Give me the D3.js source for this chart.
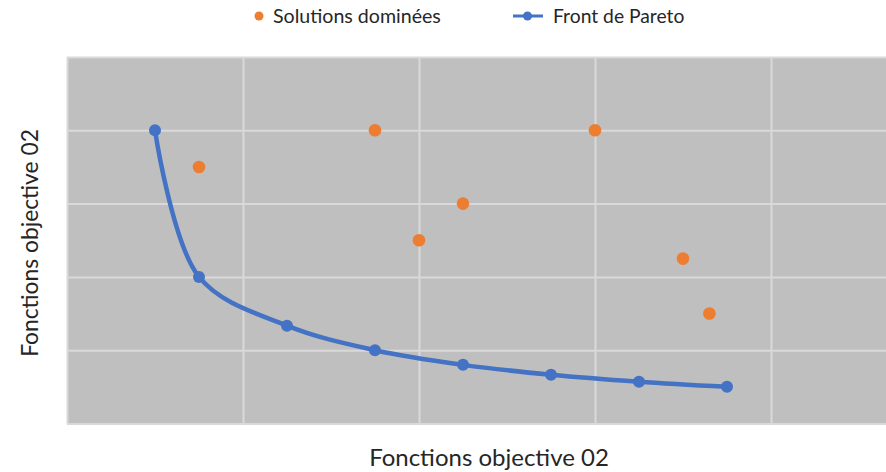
<!DOCTYPE html>
<html>
<head>
<meta charset="utf-8">
<script src="https://cdn.jsdelivr.net/npm/d3@7"></script>
<style>
  html, body { margin: 0; padding: 0; background: #ffffff; }
  svg { display: block; }
  text { font-family: Lato, "Open Sans", sans-serif; fill: #262626; }
</style>
</head>
<body>
<svg id="chart" width="886" height="472"></svg>
<script>
// Front de Pareto (objective values)
const paretoX = [1, 1.5, 2.5, 3.5, 4.5, 5.5, 6.5, 7.5];
const paretoY = [8, 4, 2.67, 2, 1.6, 1.33, 1.14, 1];

// Solutions dominées
const domineesX = [1.5, 3.5, 4, 4.5, 6, 7, 7.3];
const domineesY = [7, 8, 5, 6, 8, 4.5, 3];

// Grid ticks on both axes
const xTicks = [0, 2, 4, 6, 8, 10];
const yTicks = [0, 2, 4, 6, 8, 10];

const legendLabels = ["Solutions dominées", "Front de Pareto"];
const axisTitleX = "Fonctions objective 02";
const axisTitleY = "Fonctions objective 02";

const colors = { dominees: "#ED7D31", pareto: "#4472C4" };

const svg = d3.select("#chart");
const plot = { left: 67, top: 57, right: 947, bottom: 423.5 };

const x = d3.scaleLinear().domain([0, 10]).range([plot.left, plot.right]);
const y = d3.scaleLinear().domain([0, 10]).range([plot.bottom, plot.top]);

// Plot background
svg.append("rect")
  .attr("x", plot.left).attr("y", plot.top)
  .attr("width", plot.right - plot.left).attr("height", plot.bottom - plot.top)
  .attr("fill", "#BFBFBF");

// Gridlines via axes without labels
const gx = svg.append("g")
  .attr("transform", `translate(0,${plot.bottom})`)
  .call(d3.axisBottom(x).tickValues(xTicks).tickFormat("").tickSize(-(plot.bottom - plot.top)).tickSizeOuter(0));
const gy = svg.append("g")
  .attr("transform", `translate(${plot.left},0)`)
  .call(d3.axisLeft(y).tickValues(yTicks).tickFormat("").tickSize(-(plot.right - plot.left)).tickSizeOuter(0));
[gx, gy].forEach(g => {
  g.select(".domain").remove();
  g.selectAll(".tick line").attr("stroke", "#D9D9D9").attr("stroke-width", 2);
});

// Dominated solutions
svg.append("g").selectAll("circle")
  .data(domineesX.map((d, i) => [d, domineesY[i]]))
  .join("circle")
  .attr("cx", d => x(d[0])).attr("cy", d => y(d[1]))
  .attr("r", 6.3)
  .attr("fill", colors.dominees);

// Pareto front, smoothed line
const paretoPts = paretoX.map((d, i) => [d, paretoY[i]]);
const line = d3.line().x(d => x(d[0])).y(d => y(d[1])).curve(d3.curveCatmullRom.alpha(0.5));
svg.append("path")
  .datum(paretoPts)
  .attr("d", line)
  .attr("fill", "none")
  .attr("stroke", colors.pareto)
  .attr("stroke-width", 4.5)
  .attr("stroke-linecap", "round");
svg.append("g").selectAll("circle")
  .data(paretoPts)
  .join("circle")
  .attr("cx", d => x(d[0])).attr("cy", d => y(d[1]))
  .attr("r", 6)
  .attr("fill", colors.pareto);

// Legend
const leg = svg.append("g");
leg.append("circle").attr("cx", 259).attr("cy", 16).attr("r", 4.5).attr("fill", colors.dominees);
leg.append("text").attr("x", 273).attr("y", 23).attr("font-size", 19.6).text(legendLabels[0]);
leg.append("line").attr("x1", 513).attr("x2", 543).attr("y1", 16).attr("y2", 16)
  .attr("stroke", colors.pareto).attr("stroke-width", 3);
leg.append("circle").attr("cx", 527.5).attr("cy", 16).attr("r", 4.5).attr("fill", colors.pareto);
leg.append("text").attr("x", 553).attr("y", 23).attr("font-size", 19.3).text(legendLabels[1]);

// Axis titles
svg.append("text")
  .attr("x", 489).attr("y", 466)
  .attr("text-anchor", "middle")
  .attr("font-size", 24)
  .text(axisTitleX);
svg.append("text")
  .attr("transform", "translate(38,243) rotate(-90)")
  .attr("text-anchor", "middle")
  .attr("font-size", 22.8)
  .text(axisTitleY);
</script>
</body>
</html>
